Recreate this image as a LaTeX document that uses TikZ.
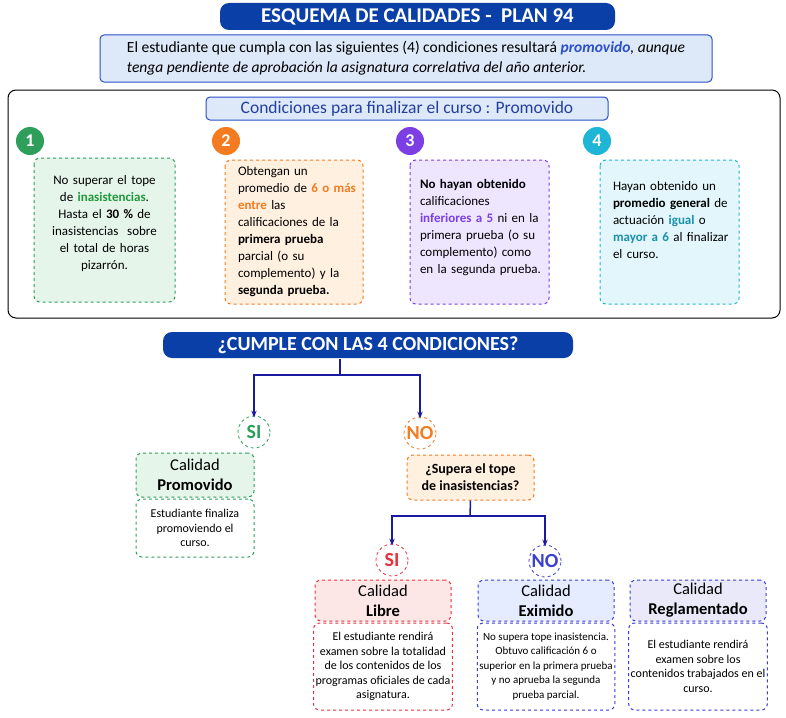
\documentclass[tikz,border=0pt]{standalone}
\usepackage{fontspec}
\setmainfont{Carlito}
\usetikzlibrary{arrows.meta}
\definecolor{dblue}{HTML}{0A3FA8}
\definecolor{lblue}{HTML}{DDE8F8}
\definecolor{mblue}{HTML}{2A4FC8}
\definecolor{arrc}{HTML}{1A1AA0}
\definecolor{cgreen}{HTML}{2E9E5B}\definecolor{fgreen}{HTML}{E6F5EA}
\definecolor{corange}{HTML}{F47B20}\definecolor{forange}{HTML}{FFF0E0}
\definecolor{cpurple}{HTML}{7B3FE4}\definecolor{fpurple}{HTML}{EEE6FF}
\definecolor{ccyan}{HTML}{1FB5D6}\definecolor{fcyan}{HTML}{E3F6FB}
\definecolor{cred}{HTML}{E8323C}\definecolor{fred}{HTML}{FDE6E6}
\definecolor{cvio}{HTML}{3A3FD0}\definecolor{fvio}{HTML}{E6ECFF}\definecolor{fvio2}{HTML}{E9E9FA}
\definecolor{tgreen}{HTML}{1E9A3A}
\begin{document}
\begin{tikzpicture}[x=1pt,y=-1pt,
  bar/.style={fill=dblue,rounded corners=9pt,text=white,font=\bfseries\fontsize{20}{22}\selectfont,inner sep=0pt},
  cond/.style={draw=#1,dashed,line width=1pt,rounded corners=6pt},
  num/.style={circle,fill=#1,text=white,minimum size=28pt,inner sep=0pt,font=\bfseries\fontsize{18}{20}\selectfont},
  txt/.style={align=left,font=\fontsize{13}{17}\selectfont,text width=#1},
  ans/.style={circle,draw=#1,fill=white,dashed,line width=0.8pt,minimum size=32pt,inner sep=0pt,text=#1,font=\bfseries\fontsize{20}{22}\selectfont},
  arr/.style={draw=arrc,line width=1.5pt,-{Stealth[length=7pt]}},
  hd/.style={font=\fontsize{16.5}{20}\selectfont,align=center},
  bd/.style={font=\fontsize{12}{14.5}\selectfont,align=center}]
\useasboundingbox (0,0) rectangle (786,717);
\fill[white] (0,0) rectangle (786,717);
\node[bar,minimum width=395pt,minimum height=27pt,font=\bfseries\fontsize{21}{22}\selectfont] (title) at (417.5,16.5) {ESQUEMA DE CALIDADES -\ \ PLAN 94};
\node[draw=mblue,line width=1pt,fill=lblue,rounded corners=4pt,minimum width=612pt,minimum height=47pt,font=\fontsize{15.5}{20}\selectfont,align=left] (intro) at (406,58.5)
{El estudiante que cumpla con las siguientes (4) condiciones resultará \textcolor{mblue}{\bfseries\itshape promovido}\textit{, aunque}\\ \textit{tenga pendiente de aprobación la asignatura correlativa del año anterior.}};
\draw[line width=1pt,rounded corners=8pt] (8,90) rectangle (780,318);
\node[draw=mblue,line width=1pt,fill=lblue,rounded corners=4pt,minimum width=402pt,minimum height=23pt,text=mblue!80!black,font=\fontsize{17.5}{20}\selectfont] (chead) at (407,108.5) {Condiciones para finalizar el curso : Promovido};
\node[num=cgreen] (n1) at (30,141) {1};
\node[num=corange] (n2) at (226,141) {2};
\node[num=cpurple] (n3) at (410,141) {3};
\node[num=ccyan] (n4) at (597,141) {4};
\draw[cond=cgreen,fill=fgreen] (34,158) rectangle (175,302);
\node[txt=136pt,align=center] (t1) at (104.5,224) {No superar el tope\\de \textcolor{tgreen}{\bfseries inasistencias}.\\Hasta el \textbf{30 \%} de\\inasistencias\ \ sobre\\el total de horas\\pizarrón.};
\draw[cond=corange,fill=forange] (225,160) rectangle (363,304);
\node[txt=128pt] (t2) at (302,232) {Obtengan un\\promedio de \textcolor{corange}{\bfseries 6 o más}\\\textcolor{corange}{\bfseries entre} las\\calificaciones de la\\\textbf{primera prueba}\\parcial (o su\\complemento) y la\\\textbf{segunda prueba.}};
\draw[cond=cpurple,fill=fpurple] (410,160) rectangle (549,304);
\node[txt=130pt] (t3) at (485,228) {\textbf{No hayan obtenido}\\calificaciones\\\textcolor{cpurple}{\bfseries inferiores a 5} ni en la\\primera prueba (o su\\complemento) como\\en la segunda prueba.};
\draw[cond=ccyan,fill=fcyan] (600,160) rectangle (739,304);
\node[txt=130pt] (t4) at (678,220) {Hayan obtenido un\\\textbf{promedio general} de\\actuación \textcolor{ccyan!80!black}{\bfseries igual} o\\\textcolor{ccyan!80!black}{\bfseries mayor a 6} al finalizar\\el curso.};
\node[bar,minimum width=410pt,minimum height=26pt] (q) at (368,345) {¿CUMPLE CON LAS 4 CONDICIONES?};
\coordinate (j1) at (340,375);
\node[ans=cgreen] (si1) at (254,432) {SI};
\node[ans=corange] (no1) at (420,433) {NO};
\draw[draw=arrc,line width=1.5pt] (340,359) -- (j1);
\draw[arr] (j1) -| ([yshift=-2pt]si1.north);
\draw[arr] (j1) -| ([yshift=-2pt]no1.north);
\node[cond=cgreen,fill=fgreen,minimum width=118pt,minimum height=44pt,hd] (ph) at (195,475) {Calidad\\\textbf{Promovido}};
\node[cond=cgreen,fill=white,minimum width=118pt,minimum height=58pt,bd] (pb) at (195,528) {Estudiante finaliza\\promoviendo el\\curso.};
\node[cond=corange,fill=forange,minimum width=127pt,minimum height=45pt,font=\bfseries\fontsize{14}{17}\selectfont,align=center] (sup) at (470.5,477.5) {¿Supera el tope\\de inasistencias?};
\coordinate (j2) at (470,516);
\node[ans=cred] (si2) at (392,560) {SI};
\node[ans=cvio] (no2) at (545,561) {NO};
\draw[draw=arrc,line width=1.5pt] (sup.south) -- (j2);
\draw[arr] (j2) -| ([yshift=-2pt]si2.north);
\draw[arr] (j2) -| ([yshift=-2pt]no2.north);
\node[cond=cred,fill=fred,minimum width=136pt,minimum height=41pt,hd] (lh) at (383,600.5) {Calidad\\\textbf{Libre}};
\node[cond=cred,fill=white,minimum width=136pt,minimum height=87pt,bd,inner xsep=2pt] (lb) at (383,666.5) {El estudiante rendirá\\examen sobre la totalidad\\de los contenidos de los\\programas oficiales de cada\\asignatura.};
\node[cond=cvio,fill=fvio,minimum width=136pt,minimum height=41pt,hd] (eh) at (546,600.5) {Calidad\\\textbf{Eximido}};
\node[cond=cvio,fill=white,minimum width=136pt,minimum height=87pt,bd,inner xsep=2pt,font=\fontsize{11}{14.5}\selectfont] (eb) at (546,666.5) {No supera tope inasistencia.\\Obtuvo calificación 6 o\\superior en la primera prueba\\y no aprueba la segunda\\prueba parcial.};
\node[cond=cvio,fill=fvio2,minimum width=136pt,minimum height=41pt,hd] (rh) at (698,600.5) {Calidad\\\textbf{Reglamentado}};
\node[cond=cvio,fill=white,minimum width=136pt,minimum height=87pt,bd,inner xsep=2pt] (rb) at (698,666.5) {El estudiante rendirá\\examen sobre los\\contenidos trabajados en el\\curso.};
\end{tikzpicture}
\end{document}
